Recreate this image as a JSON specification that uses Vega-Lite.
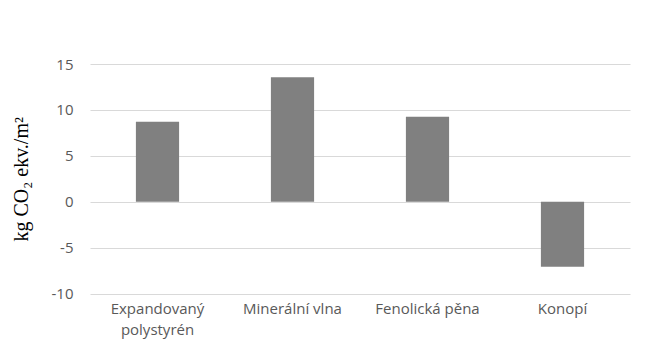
{
  "$schema": "https://vega.github.io/schema/vega-lite/v6.json",
  "width": 540,
  "height": 229.5,
  "autosize": "none",
  "padding": {"left": 90, "top": 64, "right": 17, "bottom": 62},
  "background": "white",
  "data": {"values": [
    {"material": "Expandovaný polystyrén", "value": 8.7},
    {"material": "Minerální vlna", "value": 13.55},
    {"material": "Fenolická pěna", "value": 9.25},
    {"material": "Konopí", "value": -7.08}
  ]},
  "mark": {"type": "bar", "color": "#808080"},
  "encoding": {
    "x": {
      "field": "material", "type": "nominal", "sort": null,
      "scale": {"paddingInner": 0.68, "paddingOuter": 0.34},
      "axis": {
        "title": null, "labelAngle": 0, "domain": false, "ticks": false,
        "labelExpr": "datum.value == 'Expandovaný polystyrén' ? ['Expandovaný', 'polystyrén'] : datum.value",
        "labelFont": "Open Sans", "labelFontSize": 15, "labelColor": "#595959",
        "labelPadding": 8, "labelLineHeight": 21, "labelBaseline": "top"
      }
    },
    "y": {
      "field": "value", "type": "quantitative",
      "scale": {"domain": [-10, 15], "nice": false},
      "axis": {
        "values": [-10, -5, 0, 5, 10, 15],
        "labelExpr": "replace(datum.label, '−', '-')",
        "title": "kg CO₂ ekv./m²",
        "titleFont": "Liberation Serif", "titleFontSize": 20, "titleFontWeight": "normal",
        "titleColor": "#000000", "titlePadding": 20,
        "domain": false, "ticks": false,
        "labelFont": "Open Sans", "labelFontSize": 15, "labelColor": "#595959",
        "labelPadding": 17,
        "grid": true, "gridColor": "#d9d9d9", "gridWidth": 1
      }
    }
  },
  "config": {"view": {"stroke": null}}
}
